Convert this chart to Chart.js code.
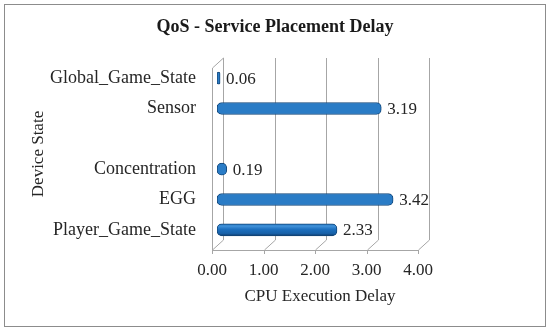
<!DOCTYPE html>
<html>
<head>
<meta charset="utf-8">
<script src="https://cdn.jsdelivr.net/npm/chart.js@4/dist/chart.umd.min.js"></script>
<style>
  html, body { margin: 0; padding: 0; background: #fff; }
  canvas { display: block; }
</style>
</head>
<body>
<canvas id="DiagramQoS" width="550" height="331"></canvas>
<script>
const categories = ["Global_Game_State", "Sensor", "", "Concentration", "EGG", "Player_Game_State"];
const delays = [0.06, 3.19, null, 0.19, 3.42, 2.33];
const xTicks = [0, 1, 2, 3, 4];
const chartTitle = "QoS - Service Placement Delay";

const serif = "'Liberation Serif', 'Times New Roman', serif";
const gridGrey = "#a6a6a6";

// depth offsets of the fake 3D box (front / back plane)
const front = { dx: -5, dy: 5 };
const back = { dx: 6, dy: -5 };

const box3d = {
  id: "box3d",
  beforeDatasetsDraw(chart) {
    const { ctx, chartArea, scales } = chart;
    const x = scales.x;
    const top = chartArea.top, bottom = chartArea.bottom;
    ctx.save();
    ctx.strokeStyle = gridGrey;
    ctx.lineWidth = 1;
    ctx.beginPath();
    xTicks.forEach((v) => {
      const px = Math.round(x.getPixelForValue(v)) + 0.5;
      // back wall grid line
      ctx.moveTo(px + back.dx, top + back.dy);
      ctx.lineTo(px + back.dx, bottom + back.dy);
      // floor diagonal
      ctx.moveTo(px + back.dx, bottom + back.dy);
      ctx.lineTo(px + front.dx, bottom + front.dy);
      // tick mark
      ctx.moveTo(px + front.dx, bottom + front.dy);
      ctx.lineTo(px + front.dx, bottom + front.dy + 4);
    });
    const x0 = Math.round(x.getPixelForValue(xTicks[0])) + 0.5;
    const x4 = Math.round(x.getPixelForValue(xTicks[xTicks.length - 1])) + 0.5;
    // front floor edge
    ctx.moveTo(x0 + front.dx, Math.round(bottom + front.dy) + 0.5);
    ctx.lineTo(x4 + front.dx, Math.round(bottom + front.dy) + 0.5);
    // side wall
    ctx.moveTo(x0 + front.dx, bottom + front.dy);
    ctx.lineTo(x0 + front.dx, top + front.dy);
    ctx.lineTo(x0 + back.dx, top + back.dy);
    ctx.stroke();

    // cylinder-like gradient on each bar
    chart.getDatasetMeta(0).data.forEach((el) => {
      const h = el.height;
      const g = ctx.createLinearGradient(0, el.y - h / 2, 0, el.y + h / 2);
      g.addColorStop(0, "#2a7cc6");
      g.addColorStop(0.2, "#3f90d8");
      g.addColorStop(0.45, "#1d70bf");
      g.addColorStop(0.8, "#1861a8");
      g.addColorStop(1, "#0f3c6c");
      el.options.backgroundColor = g;
    });
    ctx.restore();
  },
  afterDatasetsDraw(chart) {
    const { ctx } = chart;
    ctx.save();
    ctx.font = "17px " + serif;
    ctx.fillStyle = "#262626";
    ctx.textAlign = "left";
    ctx.textBaseline = "middle";
    chart.getDatasetMeta(0).data.forEach((el, i) => {
      if (delays[i] === null) return;
      ctx.fillText(delays[i].toFixed(2), el.x + 6, el.y + 1);
    });
    ctx.restore();
  },
  afterDraw(chart) {
    const { ctx } = chart;
    ctx.save();
    ctx.font = "bold 18px " + serif;
    ctx.fillStyle = "#1a1a1a";
    ctx.textAlign = "center";
    ctx.textBaseline = "middle";
    ctx.fillText(chartTitle, 275, 27);
    ctx.strokeStyle = "#8c8c8c";
    ctx.lineWidth = 1;
    ctx.strokeRect(4.5, 4.5, 541, 322);
    ctx.restore();
  },
};

const ctx = document.getElementById("DiagramQoS");

new Chart(ctx, {
  type: "bar",
  data: {
    labels: categories,
    datasets: [
      {
        label: "CPU Execution Delay",
        data: delays,
        barThickness: 12,
        borderWidth: 1,
        borderColor: "#134678",
        borderRadius: 5,
        borderSkipped: false,
        backgroundColor: "#1d70bf",
      },
    ],
  },
  options: {
    indexAxis: "y",
    responsive: false,
    animation: false,
    events: [],
    layout: {
      padding: { left: 20, right: 127, top: 63, bottom: 14 },
    },
    plugins: {
      legend: { display: false },
      tooltip: { enabled: false },
      title: { display: false },
    },
    scales: {
      x: {
        min: 0,
        max: 4,
        afterBuildTicks: (scale) => {
          scale.ticks = xTicks.map((v) => ({ value: v }));
        },
        afterFit: (scale) => {
          scale.height = 331 - 14 - 245;
        },
        grid: { display: false, drawTicks: false },
        border: { display: false },
        ticks: {
          padding: 15,
          labelOffset: -5,
          color: "#262626",
          font: { family: serif, size: 17 },
          callback: (v) => Number(v).toFixed(2),
        },
        title: {
          display: true,
          text: "CPU Execution Delay",
          color: "#262626",
          font: { family: serif, size: 17 },
          padding: { top: 0, bottom: 10 },
        },
      },
      y: {
        afterFit: (scale) => {
          scale.width = 217 - 20;
        },
        grid: { display: false, drawTicks: false },
        border: { display: false },
        ticks: {
          padding: 21,
          color: "#262626",
          font: { family: serif, size: 18 },
        },
        title: {
          display: true,
          text: "Device State",
          color: "#262626",
          font: { family: serif, size: 17 },
          padding: { top: 8, bottom: 0 },
        },
      },
    },
  },
  plugins: [box3d],
});
</script>
</body>
</html>
